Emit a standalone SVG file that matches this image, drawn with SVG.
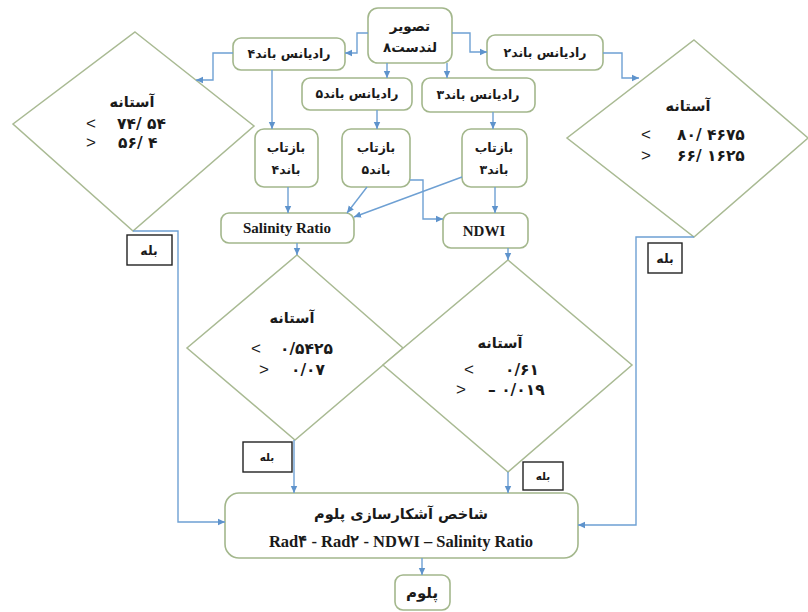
<svg xmlns="http://www.w3.org/2000/svg" width="808" height="612" viewBox="0 0 808 612">
<defs>
<marker id="ah" markerUnits="userSpaceOnUse" markerWidth="8" markerHeight="8" refX="7" refY="4" orient="auto">
<path d="M0,0.8 L7,4 L0,7.2 Z" fill="#5E93CC"/>
</marker>
</defs>
<style>
.box{fill:#fff;stroke:#A3B78C;stroke-width:1.6}
.dia{fill:#fff;stroke:#A9BA93;stroke-width:1.5}
.yes{fill:#fff;stroke:#222;stroke-width:1.4}
.fa{font-family:"DejaVu Sans",sans-serif;font-weight:bold;font-size:12.5px;fill:#1a1a1a;text-anchor:middle}
.th{font-size:14.5px}
.sm{font-size:10.5px}
.num{font-family:"DejaVu Sans",sans-serif;font-weight:bold;font-size:15.5px;fill:#1a1a1a}
.sym{font-family:"Liberation Sans",sans-serif;font-size:17px;fill:#1a1a1a}
.en{font-family:"Liberation Serif",serif;font-weight:bold;font-size:15px;fill:#1a1a1a;text-anchor:middle}
.con{fill:none;stroke:#6EA0D3;stroke-width:1.4;marker-end:url(#ah)}
</style>
<rect width="808" height="612" fill="#fff"/>

<g id="diamond-left">
<polygon class="dia" points="135,32 254,126 133,231 13,124"/>
<text class="fa th" x="132" y="107" direction="rtl">آستانه</text>
<text class="sym" x="86" y="129" direction="ltr">&lt;</text>
<text class="num" x="117" y="129" direction="ltr">۷۴/ ۵۴</text>
<text class="sym" x="86" y="148" direction="ltr">&gt;</text>
<text class="num" x="118" y="148" direction="ltr">۵۶/ ۴</text>
</g>

<g id="diamond-right">
<polygon class="dia" points="694,40 808,138 694,237 567,138"/>
<text class="fa th" x="688" y="111" direction="rtl">آستانه</text>
<text class="sym" x="641" y="140" direction="ltr">&lt;</text>
<text class="num" x="677" y="140" direction="ltr">۸۰/ ۴۶۷۵</text>
<text class="sym" x="641" y="161" direction="ltr">&gt;</text>
<text class="num" x="677" y="161" direction="ltr">۶۶/ ۱۶۲۵</text>
</g>

<g id="diamond-salinity">
<polygon class="dia" points="297,255 403,348 295,440 187,348"/>
<text class="fa th" x="292" y="323" direction="rtl">آستانه</text>
<text class="sym" x="251" y="354" direction="ltr">&lt;</text>
<text class="num" x="280" y="354" direction="ltr">۰/۵۴۲۵</text>
<text class="sym" x="259" y="375" direction="ltr">&gt;</text>
<text class="num" x="291" y="375" direction="ltr">۰/۰۷</text>
</g>

<g id="diamond-ndwi">
<polygon class="dia" points="508,260 632,365 508,472 383,365"/>
<text class="fa th" x="500" y="348" direction="rtl">آستانه</text>
<text class="sym" x="464" y="375" direction="ltr">&lt;</text>
<text class="num" x="505" y="375" direction="ltr">۰/۶۱</text>
<text class="sym" x="456" y="395" direction="ltr">&gt;</text>
<text class="num" x="488" y="395" direction="ltr">– ۰/۰۱۹</text>
</g>

<g id="landsat">
<rect class="box" x="368" y="8" width="84" height="55" rx="10"/>
<text class="fa" x="410" y="31" style="font-size:13.5px" direction="rtl">تصویر</text>
<text class="fa" x="410" y="52" style="font-size:13.5px" direction="rtl">لندست۸</text>
</g>
<g id="rad4">
<rect class="box" x="233" y="38" width="112" height="32" rx="8"/>
<text class="fa" x="289" y="58" direction="rtl">رادیانس باند۴</text>
</g>
<g id="rad2">
<rect class="box" x="487" y="35" width="116" height="35" rx="8"/>
<text class="fa" x="545" y="57" direction="rtl">رادیانس باند۲</text>
</g>
<g id="rad5">
<rect class="box" x="302" y="78" width="110" height="32" rx="8"/>
<text class="fa" x="357" y="98" direction="rtl">رادیانس باند۵</text>
</g>
<g id="rad3">
<rect class="box" x="422" y="78" width="113" height="34" rx="8"/>
<text class="fa" x="478" y="99" direction="rtl">رادیانس باند۳</text>
</g>
<g id="ref4">
<rect class="box" x="255" y="129" width="63" height="58" rx="9"/>
<text class="fa" x="286" y="152" direction="rtl">بازتاب</text>
<text class="fa" x="286" y="174" direction="rtl">باند۴</text>
</g>
<g id="ref5">
<rect class="box" x="342" y="129" width="68" height="58" rx="9"/>
<text class="fa" x="376" y="152" direction="rtl">بازتاب</text>
<text class="fa" x="376" y="174" direction="rtl">باند۵</text>
</g>
<g id="ref3">
<rect class="box" x="462" y="129" width="65" height="58" rx="9"/>
<text class="fa" x="494" y="152" direction="rtl">بازتاب</text>
<text class="fa" x="494" y="174" direction="rtl">باند۳</text>
</g>
<g id="salinity">
<rect class="box" x="221" y="213" width="133" height="30" rx="8"/>
<text class="en" x="287" y="233">Salinity Ratio</text>
</g>
<g id="ndwi">
<rect class="box" x="443" y="213" width="85" height="35" rx="8"/>
<text class="en" x="484" y="236">NDWI</text>
</g>

<g id="yes-left">
<rect class="yes" x="127" y="235" width="45" height="30"/>
<text class="fa" x="149" y="255" direction="rtl">بله</text>
</g>
<g id="yes-right">
<rect class="yes" x="648" y="243" width="34" height="30"/>
<text class="fa" x="665" y="263" direction="rtl">بله</text>
</g>
<g id="yes-salinity">
<rect class="yes" x="243" y="442" width="49" height="30"/>
<text class="fa sm" x="267" y="461" direction="rtl">بله</text>
</g>
<g id="yes-ndwi">
<rect class="yes" x="523" y="462" width="40" height="28"/>
<text class="fa sm" x="543" y="480" direction="rtl">بله</text>
</g>

<g id="plume-index">
<rect class="box" x="225" y="493" width="353" height="65" rx="14"/>
<text class="fa" x="401" y="519" style="font-size:14.5px" direction="rtl">شاخص آشکارسازی پلوم</text>
<text class="en" x="401" y="547" style="font-size:16.5px">Rad۴ - Rad۲ - NDWI – Salinity Ratio</text>
</g>
<g id="plume">
<rect class="box" x="395" y="575" width="55" height="35" rx="8"/>
<text class="fa" x="422" y="598" style="font-size:15px" direction="rtl">پلوم</text>
</g>

<g id="connectors">
<path class="con" d="M368,33 H357 V53 H345"/>
<path class="con" d="M452,33 H470 V52 H487"/>
<path class="con" d="M387,63 V78"/>
<path class="con" d="M447,63 V78"/>
<path class="con" d="M233,53 H213 V80 H196"/>
<path class="con" d="M603,53 H622 V78 H639"/>
<path class="con" d="M272,70 V129"/>
<path class="con" d="M377,110 V129"/>
<path class="con" d="M493,112 V129"/>
<path class="con" d="M288,187 V213"/>
<path class="con" d="M367,187 L347,213"/>
<path class="con" d="M410,180 H423 V219 H443"/>
<path class="con" d="M462,177 L354,217"/>
<path class="con" d="M495,187 V213"/>
<path class="con" d="M297,243 V255"/>
<path class="con" d="M508,248 V260"/>
<path class="con" d="M133,231 H178 V522 H225"/>
<path class="con" d="M694,237 H636 V525 H578"/>
<path class="con" d="M294,440 V493"/>
<path class="con" d="M508,472 V493"/>
<path class="con" d="M422,558 V575"/>
</g>
</svg>
